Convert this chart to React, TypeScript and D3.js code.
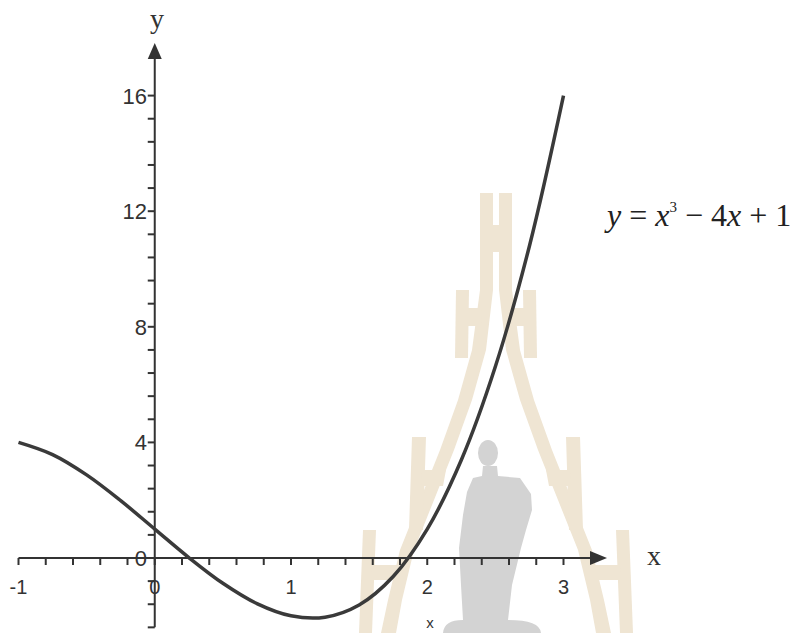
import React from "react";
import * as d3 from "d3";

// Sampled points of y = x^3 - 4x + 1 on [-1, 3]
const xValues = [-1, -0.75, -0.5, -0.25, 0, 0.25, 0.5, 0.75, 1, 1.25, 1.5, 1.75, 2, 2.25, 2.5, 2.75, 3];
const yValues = [4, 3.578, 2.875, 1.984, 1, 0.016, -0.875, -1.578, -2, -2.047, -1.625, -0.641, 1, 3.391, 6.625, 10.797, 16];

const xTickLabels = [-1, 0, 1, 2, 3];
const yTickLabels = [0, 4, 8, 12, 16];
const xMinorStep = 0.2;
const yMinorStep = 0.8;

const W = 805;
const H = 633;
const INK = "#333";
const SANS = "'Liberation Sans', Arial, sans-serif";
const SERIF = "'Liberation Serif', 'Times New Roman', serif";

// Faint tower-and-statue emblem in the background (left half; mirrored for the right)
const BEIGE = "#efe5d3";
const GREY = "#d3d3d3";
const towerLeftHalf = [
  // leg
  "M480,193 L493,193 L493,290 L486,350 L472,400 L454,450 L434,500 L414,550 L402,600 L396,633 L381,633 L388,600 L400,550 L420,500 L440,450 L458,400 L472,350 L480,290 Z",
  // crossbar of the spire
  "M480,225 L496,225 L496,252 L480,252 Z",
  // tier 2
  "M456,290 L469,290 L468,358 L455,358 Z",
  "M466,308 L482,308 L481,326 L466,326 Z",
  // tier 3
  "M412,437 L426,437 L423,530 L409,530 Z",
  "M422,470 L446,470 L443,486 L421,486 Z",
  // tier 4
  "M363,530 L376,530 L372,633 L359,633 Z",
  "M372,565 L404,565 L402,580 L371,580 Z",
];
const statuePath =
  "M483,466 L497,466 L498,476 L520,478 L531,494 L532,510 L526,530 L521,548 L512,585 L508,620 " +
  "Q540,620 541,633 L443,633 Q444,620 463,620 L461,585 L459,548 L463,515 L467,492 L473,478 L482,476 Z";

export default function App() {
  const x = d3.scaleLinear().domain([-1, 3]).range([18.5, 563.5]);
  const y = d3.scaleLinear().domain([0, 16]).range([558, 95.6]);

  const x0 = x(0);
  const y0 = y(0);

  const pts: [number, number][] = xValues.map((v, i) => [v, yValues[i]]);
  const line = d3
    .line<[number, number]>()
    .x((d) => x(d[0]))
    .y((d) => y(d[1]))
    .curve(d3.curveCatmullRom.alpha(0.5));

  const xMinor = d3.range(-1, 3 + 1e-9, xMinorStep);
  const yMinor = d3.range(-2.4, 16 + 1e-9, yMinorStep);

  const xAxisEnd = 607;
  const yAxisTop = 43;
  const yAxisBottom = y(-2.4);

  return (
    <svg
      width={W}
      height={H}
      viewBox={`0 0 ${W} ${H}`}
      style={{ position: "absolute", left: 0, top: 0, background: "#fff" }}
    >
      <rect width={W} height={H} fill="#fff" />

      {/* background emblem */}
      <g fill={BEIGE}>
        {towerLeftHalf.map((d, i) => (
          <path key={`l${i}`} d={d} />
        ))}
        <g transform="translate(992,0) scale(-1,1)">
          {towerLeftHalf.map((d, i) => (
            <path key={`r${i}`} d={d} />
          ))}
        </g>
      </g>
      <g fill={GREY}>
        <ellipse cx={488} cy={453} rx={10} ry={13} />
        <path d={statuePath} />
      </g>

      {/* x axis */}
      <line x1={x(-1)} x2={xAxisEnd - 14} y1={y0} y2={y0} stroke={INK} strokeWidth={2} />
      <path d={`M${xAxisEnd},${y0} L${xAxisEnd - 17},${y0 - 7} L${xAxisEnd - 17},${y0 + 7} Z`} fill={INK} />
      {xMinor.map((v, i) => (
        <line key={`xt${i}`} x1={x(v)} x2={x(v)} y1={y0} y2={y0 + 7} stroke={INK} strokeWidth={2} />
      ))}
      {xTickLabels.map((v) => (
        <text
          key={`xl${v}`}
          x={x(v)}
          y={594}
          fontFamily={SANS}
          fontSize={20}
          fill={INK}
          textAnchor="middle"
        >
          {v}
        </text>
      ))}

      {/* y axis */}
      <line x1={x0} x2={x0} y1={yAxisBottom} y2={yAxisTop + 14} stroke={INK} strokeWidth={2} />
      <path d={`M${x0},${yAxisTop} L${x0 - 7},${yAxisTop + 16} L${x0 + 7},${yAxisTop + 16} Z`} fill={INK} />
      {yMinor.map((v, i) => (
        <line key={`yt${i}`} x1={x0 - 7} x2={x0} y1={y(v)} y2={y(v)} stroke={INK} strokeWidth={2} />
      ))}
      {yTickLabels.map((v) => (
        <text
          key={`yl${v}`}
          x={147}
          y={y(v) + 8}
          fontFamily={SANS}
          fontSize={22}
          fill={INK}
          textAnchor="end"
        >
          {v}
        </text>
      ))}

      {/* axis names */}
      <text x={157} y={28} fontFamily={SERIF} fontSize={28} fill={INK} textAnchor="middle">
        y
      </text>
      <text x={654} y={565} fontFamily={SERIF} fontSize={28} fill={INK} textAnchor="middle">
        x
      </text>
      <text x={430} y={628} fontFamily={SANS} fontSize={15} fill={INK} textAnchor="middle">
        x
      </text>

      {/* curve */}
      <path d={line(pts) ?? ""} fill="none" stroke="#3a3a3a" strokeWidth={3.5} strokeLinejoin="round" />

      {/* equation */}
      <text x={607} y={226} fontFamily={SERIF} fontSize={32} fill="#222">
        <tspan fontStyle="italic">y</tspan>
        <tspan> = </tspan>
        <tspan fontStyle="italic">x</tspan>
        <tspan fontSize={15} dy={-14}>3</tspan>
        <tspan dy={14}> − 4</tspan>
        <tspan fontStyle="italic">x</tspan>
        <tspan> + 1</tspan>
      </text>
    </svg>
  );
}
